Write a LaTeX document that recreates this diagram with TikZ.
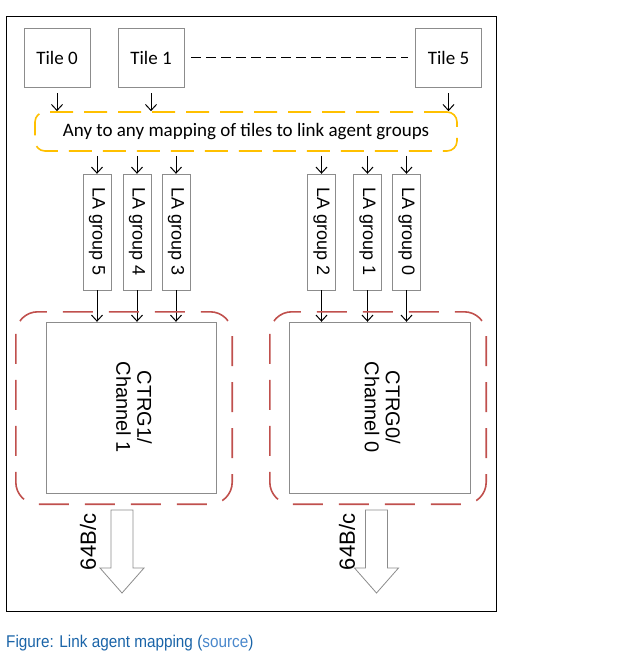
\documentclass[tikz,border=0pt]{standalone}
\usepackage{fontspec}
\setmainfont{Carlito}
\newfontfamily\arialfont{Liberation Sans}
\newfontfamily\capfont[FakeStretch=0.9]{Liberation Sans}
\usepackage{graphicx}
\usetikzlibrary{positioning, calc, arrows.meta}
\definecolor{mapgold}{HTML}{FFC000}
\definecolor{zonered}{HTML}{C0504D}
\definecolor{capblue}{HTML}{1A64A8}
\definecolor{linkblue}{HTML}{4A88CC}
\tikzset{tile/.style={draw=black!45, minimum width=66pt, minimum height=59pt, inner sep=0pt, font=\fontsize{19}{22}\selectfont}}
\tikzset{lagroup/.style={draw=black!45, rotate=-90, minimum width=116pt, minimum height=28pt, inner sep=0pt, font=\arialfont\fontsize{18}{20}\selectfont}}
\tikzset{ctrg/.style={draw=black!45, minimum height=171pt, inner sep=0pt, font=\arialfont\fontsize{20}{21}\selectfont}}
\tikzset{feed/.style={-{Straight Barb[width=11pt,length=6pt]}, line width=1pt}}
\tikzset{zone/.style={draw=zonered, line width=1.6pt, rounded corners=22pt, dash pattern=on 30pt off 16pt}}
\tikzset{bus/.style={draw=black!45, fill=white, line width=0.8pt}}

\begin{document}
\begin{tikzpicture}[x=1pt, y=-1pt]
      \useasboundingbox (0,0) rectangle (620,668);
      \draw[line width=1pt] (6,17) rectangle (496,611);

      \node[tile] (t0) at (57,57.5) {Tile 0};
      \node[tile] (t1) at (151,57.5) {Tile 1};
      \node[tile] (t5) at (448.5,57.5) {Tile 5};
      \draw[line width=1pt, dash pattern=on 10pt off 5pt, shorten <=7pt, shorten >=7pt] (t1) -- (t5);

      \node[draw=mapgold, line width=1.6pt, rounded corners=10pt, dash pattern=on 23pt off 11pt,
        minimum width=422pt, minimum height=39pt, font=\fontsize{19}{22}\selectfont] (map) at (246,131.5)
        {Any to any mapping of tiles to link agent groups};
      \foreach \t in {t0, t1, t5}
        \draw[feed, shorten <=6pt] (\t) -- (\t |- map.north);

      \node[lagroup] (la5) at (97,232) {LA group 5};
      \node[lagroup] (la4) at (137,232) {LA group 4};
      \node[lagroup] (la3) at (176,232) {LA group 3};
      \node[lagroup] (la2) at (321.5,232) {LA group 2};
      \node[lagroup] (la1) at (367.5,232) {LA group 1};
      \node[lagroup] (la0) at (406.5,232) {LA group 0};

      \node[ctrg, minimum width=170pt] (ctrg1) at (131,407.5) {\rotatebox{-90}{\begin{tabular}{@{}c@{}}CTRG1/\\Channel 1\end{tabular}}};
      \node[ctrg, minimum width=181pt] (ctrg0) at (379.5,407.5) {\rotatebox{-90}{\begin{tabular}{@{}c@{}}CTRG0/\\Channel 0\end{tabular}}};

      \foreach \g/\c in {la5/ctrg1, la4/ctrg1, la3/ctrg1, la2/ctrg0, la1/ctrg0, la0/ctrg0} {
        \draw[feed, shorten <=4pt] (\g |- map.south) -- (\g);
        \draw[feed] (\g) -- (\g |- \c.north);
      }

      \draw[zone] ($(ctrg1.north west)+(-30,-10)$) rectangle ($(ctrg1.south east)+(16,11)$);
      \draw[zone] ($(ctrg0.north west)+(-19,-10)$) rectangle ($(ctrg0.south east)+(16,11)$);

      \coordinate (out1) at (121.5,510);
      \coordinate (out0) at (376,510);
      \foreach \o in {out1, out0}
        \draw[bus] (\o) ++(-10.5,0) -- ++(0,58) -- ++(-11,0) -- ++(22,25) -- ++(22,-25) -- ++(-11,0) -- ++(0,-58) -- cycle;
      \node[rotate=90, font=\arialfont\fontsize{22}{24}\selectfont] (bw1) at (88,542) {64B/c};
      \node[rotate=90, font=\arialfont\fontsize{22}{24}\selectfont] (bw0) at (347,542) {64B/c};

      \node[anchor=west, inner sep=0pt, text=capblue, font=\capfont\fontsize{17}{19}\selectfont] (cap) at (6,643)
        {Figure: Link agent mapping (\textcolor{linkblue}{source})};
    \end{tikzpicture}
\end{document}
